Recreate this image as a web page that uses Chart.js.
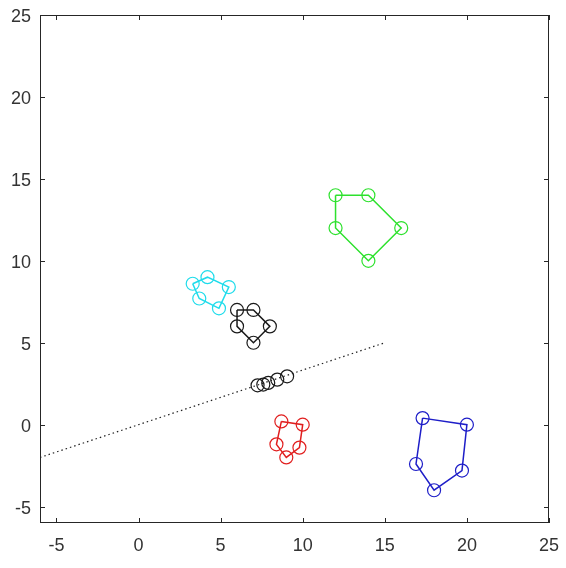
<!DOCTYPE html>
<html lang="en">
<head>
<meta charset="UTF-8">
<title>Clusters</title>
<script src="https://cdn.jsdelivr.net/npm/chart.js"></script>
<style>
    body { margin: 0; background: #fff; }
    .wrap { width: 566px; height: 568px; position: relative; }
</style>
</head>
<body>
<div class="wrap"><canvas id="chart"></canvas></div>
<script>
    const xTicks = [-5, 0, 5, 10, 15, 20, 25];
    const yTicks = [-5, 0, 5, 10, 15, 20, 25];

    // cluster polygons (vertices in drawing order)
    const greenX = [12, 14, 16, 14, 12];
    const greenY = [14, 14, 12, 10, 12];
    const cyanX = [3.3, 4.2, 5.5, 4.9, 3.7];
    const cyanY = [8.6, 9.0, 8.4, 7.1, 7.7];
    const blackX = [6, 7, 8, 7, 6];
    const blackY = [7, 7, 6, 5, 6];
    const redX = [8.7, 10, 9.8, 9, 8.4];
    const redY = [0.2, 0, -1.4, -2, -1.2];
    const blueX = [17.3, 20, 19.7, 18, 16.9];
    const blueY = [0.4, 0, -2.8, -4, -2.4];

    // dotted line and the points lying on it
    const lineX = [-6, 15];
    const lineY = [-2, 5];
    const projX = [7.25, 7.6, 7.9, 8.45, 9.05];
    const projY = [2.4, 2.45, 2.55, 2.75, 2.95];

    function pts(xs, ys) {
        return xs.map((x, i) => ({ x: x, y: ys[i] }));
    }
    function closed(xs, ys) {
        const p = pts(xs, ys);
        p.push(p[0]);
        return p;
    }
    function polygon(xs, ys, color) {
        const n = xs.length;
        return {
            data: closed(xs, ys),
            showLine: true,
            borderColor: color,
            borderWidth: 1.5,
            // skip the repeated closing point so the circle isn't drawn twice
            pointRadius: c => (c.dataIndex === n ? 0 : 6.5),
            pointBorderWidth: 1.2,
            pointBorderColor: color,
            pointBackgroundColor: 'rgba(0,0,0,0)',
            tension: 0
        };
    }

    const boxPlugin = {
        id: 'box',
        afterDraw(chart) {
            const ctx = chart.ctx;
            const a = chart.chartArea;
            const sx = chart.scales.x, sy = chart.scales.y;
            const t = 5;
            ctx.save();
            ctx.strokeStyle = '#262626';
            ctx.lineWidth = 1;
            ctx.strokeRect(a.left + 0.5, a.top + 0.5, a.right - a.left - 1, a.bottom - a.top - 1);
            ctx.beginPath();
            xTicks.forEach(v => {
                const px = Math.round(sx.getPixelForValue(v)) + 0.5;
                ctx.moveTo(px, a.bottom); ctx.lineTo(px, a.bottom - t);
                ctx.moveTo(px, a.top); ctx.lineTo(px, a.top + t);
            });
            yTicks.forEach(v => {
                const py = Math.round(sy.getPixelForValue(v)) + 0.5;
                ctx.moveTo(a.left, py); ctx.lineTo(a.left + t, py);
                ctx.moveTo(a.right, py); ctx.lineTo(a.right - t, py);
            });
            ctx.stroke();
            ctx.restore();
        }
    };

    const tickFont = { family: 'Liberation Sans, Arial, sans-serif', size: 18 };

    new Chart(document.getElementById('chart'), {
        type: 'scatter',
        data: {
            datasets: [
                {
                    data: pts(lineX, lineY),
                    showLine: true,
                    borderColor: '#222',
                    borderWidth: 1.2,
                    borderDash: [1.5, 3],
                    pointRadius: 0
                },
                polygon(greenX, greenY, 'rgb(45,225,45)'),
                polygon(cyanX, cyanY, 'rgb(30,220,235)'),
                polygon(blackX, blackY, '#1a1a1a'),
                polygon(redX, redY, 'rgb(225,30,30)'),
                polygon(blueX, blueY, 'rgb(30,30,200)'),
                {
                    data: pts(projX, projY),
                    pointRadius: 6.5,
                    pointBorderWidth: 1.2,
                    pointBorderColor: '#1a1a1a',
                    pointBackgroundColor: 'rgba(0,0,0,0)'
                }
            ]
        },
        options: {
            responsive: true,
            maintainAspectRatio: false,
            animation: false,
            layout: { padding: { top: 15, right: 17, left: 0, bottom: 0 } },
            plugins: { legend: { display: false }, tooltip: { enabled: false } },
            scales: {
                x: {
                    type: 'linear', min: -6, max: 25,
                    afterBuildTicks: s => { s.ticks = xTicks.map(v => ({ value: v })); },
                    afterFit: s => { s.height = 45; s.paddingLeft = 0; s.paddingRight = 0; },
                    grid: { display: false, drawTicks: false },
                    border: { display: false },
                    ticks: { font: tickFont, color: '#333', padding: 12, maxRotation: 0 }
                },
                y: {
                    type: 'linear', min: -6, max: 25,
                    afterBuildTicks: s => { s.ticks = yTicks.map(v => ({ value: v })); },
                    afterFit: s => { s.width = 40; s.paddingTop = 0; s.paddingBottom = 0; },
                    grid: { display: false, drawTicks: false },
                    border: { display: false },
                    ticks: { font: tickFont, color: '#333', padding: 9, labelOffset: 2 }
                }
            }
        },
        plugins: [boxPlugin]
    });
</script>
</body>
</html>
